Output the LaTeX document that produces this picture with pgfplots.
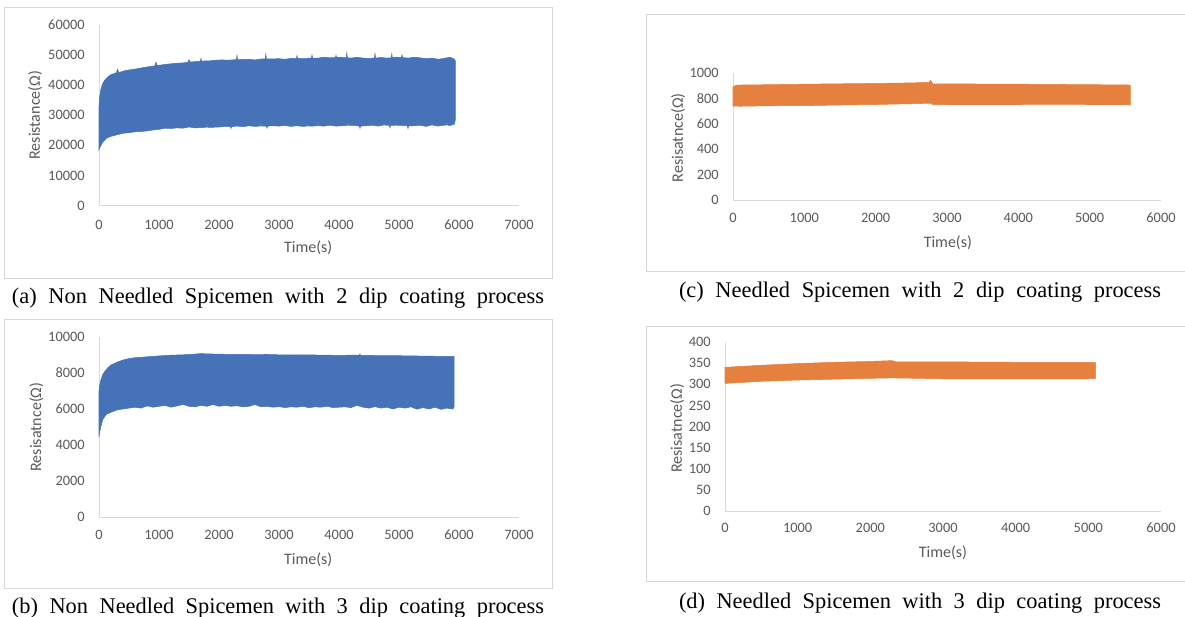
\documentclass[border=0pt]{standalone}
\usepackage{pgfplots}
\pgfplotsset{compat=1.18}
\usepackage{fontspec}
\setmainfont{Liberation Serif}
\newfontfamily\calibri{Carlito}
\definecolor{xlblue}{HTML}{4672B8}
\definecolor{xlorange}{HTML}{E6803F}
\definecolor{ticktxt}{HTML}{595959}
\definecolor{axgray}{HTML}{D9D9D9}
\definecolor{framegray}{HTML}{D6D6D6}
\pgfplotsset{
  xlchart/.style={
    scale only axis,
    axis x line*=bottom, axis y line*=left,
    axis line style={draw=axgray, line width=0.75pt},
    major tick length=0pt,
    tick style={draw=none},
    ticklabel style={font=\calibri\fontsize{10.8}{12}\selectfont, text=ticktxt, inner sep=0pt},
    /pgf/number format/1000 sep={},
    /pgf/number format/assume math mode=true,
    scaled ticks=false,
    yticklabel style={anchor=east, xshift=-10.5pt},
    every axis y label/.style={rotate=90, anchor=center, font=\calibri\fontsize{12}{14}\selectfont, text=ticktxt},
    every axis x label/.style={anchor=center, font=\calibri\fontsize{12}{14}\selectfont, text=ticktxt},
    clip=false,
  }
}
\newcommand\capt[2]{\fontsize{16.8}{20}\selectfont\makebox[#1][s]{#2}}
\begin{document}
\begin{tikzpicture}
\useasboundingbox (0,0) rectangle (888.75pt,-462.75pt);
\clip (0,0) rectangle (888.75pt,-462.75pt);
% frames
\draw[framegray, line width=0.75pt] (3pt,-6pt) rectangle (414pt,-208.5pt);
\draw[framegray, line width=0.75pt] (3pt,-239.25pt) rectangle (414pt,-441pt);
\draw[framegray, line width=0.75pt] (484.5pt,-11.25pt) rectangle (892.5pt,-203.25pt);
\draw[framegray, line width=0.75pt] (484.5pt,-244.5pt) rectangle (892.5pt,-435.75pt);
% captions
\node[anchor=center, inner sep=0pt] at (208.5pt,-223.5pt) {\capt{399pt}{(a) Non Needled Spicemen with 2 dip coating process}};
\node[anchor=center, inner sep=0pt] at (208.5pt,-456pt) {\capt{399pt}{(b) Non Needled Spicemen with 3 dip coating process}};
\node[anchor=center, inner sep=0pt] at (690pt,-219pt) {\capt{361.5pt}{(c) Needled Spicemen with 2 dip coating process}};
\node[anchor=center, inner sep=0pt] at (690pt,-452.25pt) {\capt{361.5pt}{(d) Needled Spicemen with 3 dip coating process}};

% (a)
\begin{axis}[xlchart, at={(74.25pt,-154.125pt)}, anchor=origin,
  width=315pt, height=135.375pt,
  xmin=0, xmax=7000, ymin=0, ymax=60000,
  xtick={0,1000,...,7000}, ytick={0,10000,...,60000},
  xticklabel style={anchor=center, yshift=-14.3pt},
  xlabel={Time(s)}, ylabel={Resistance(Ω)},
  xlabel style={at={(axis description cs:0.498,-0.235)}},
  ylabel style={at={(axis description cs:-0.152,0.5)}},
  ]
\addplot[fill=xlblue, draw=xlblue, line width=0.4pt] coordinates {
(0,33000)(10,36000)(30,38500)(60,40500)(100,41800)(150,42800)(200,43500)(290,44100)(310,45300)(330,44200)
(450,44900)(550,45200)(650,45500)(750,45900)(850,46200)(930,46400)(950,47600)(970,46500)(1100,46900)(1200,47100)
(1300,47300)(1400,47400)(1480,47600)(1500,48500)(1520,47700)(1650,47900)(1690,48000)(1700,48900)(1710,48000)(1850,48100)
(1950,48300)(2050,48400)(2150,48300)(2290,48500)(2300,49900)(2310,48500)(2500,48600)(2600,48400)(2700,48700)(2770,48700)
(2780,50300)(2790,48700)(3000,48800)(3100,48600)(3200,48900)(3290,48900)(3300,49800)(3310,48900)(3400,48800)(3500,49000)
(3540,49000)(3550,50000)(3560,49000)(3650,49000)(3750,49300)(3850,49100)(3940,49200)(3950,49900)(3960,49200)(4050,49200)
(4120,49100)(4130,50700)(4140,49100)(4200,49000)(4300,49300)(4400,49000)(4500,48900)(4590,49000)(4600,50500)(4610,49000)
(4700,49200)(4800,49000)(4870,49100)(4880,50400)(4890,49100)(4950,49300)(5040,49200)(5050,50100)(5060,49200)(5150,49000)
(5250,49300)(5350,49100)(5450,48800)(5550,49000)(5650,48600)(5750,48900)(5850,49300)(5920,48700)(5940,48000)
(5940,28500)(5920,27000)(5850,26600)(5810,26700)(5800,27900)(5790,26700)(5750,26700)(5650,26400)(5550,26800)(5450,26300)
(5350,26700)(5250,26500)(5160,26500)(5150,25600)(5140,26500)(5050,26600)(4950,26700)(4860,26600)(4850,25800)(4840,26600)
(4750,26800)(4650,26400)(4550,26700)(4450,26500)(4360,26400)(4350,25700)(4340,26400)(4250,26600)(4160,26600)(4150,27600)
(4140,26600)(4050,26500)(3950,26400)(3850,26700)(3750,26400)(3660,26500)(3650,27800)(3640,26500)(3550,26400)(3490,26400)
(3480,28000)(3470,26400)(3400,26300)(3300,26500)(3200,26300)(3100,26600)(3000,26400)(2900,26500)(2810,26400)(2800,25700)
(2790,26400)(2710,26400)(2700,27500)(2690,26400)(2600,26300)(2500,26500)(2400,26200)(2300,26400)(2210,26200)(2200,25600)
(2190,26200)(2100,26300)(2000,26100)(1900,26000)(1810,26000)(1800,27100)(1790,26000)(1700,25900)(1600,25800)(1500,26100)
(1400,25700)(1300,25800)(1200,25600)(1100,25700)(1000,25300)(900,25100)(800,24800)(700,24600)(600,24500)(500,24200)
(400,24000)(300,23500)(200,23000)(120,22300)(60,21000)(20,19500)(0,18500)
} -- cycle;
\end{axis}

% (b)
\begin{axis}[xlchart, at={(74.25pt,-387.75pt)}, anchor=origin,
  width=315pt, height=135pt,
  xmin=0, xmax=7000, ymin=0, ymax=10000,
  xtick={0,1000,...,7000}, ytick={0,2000,...,10000},
  xticklabel style={anchor=center, yshift=-13.5pt},
  xlabel={Time(s)}, ylabel={Resisatnce(Ω)},
  xlabel style={at={(axis description cs:0.498,-0.239)}},
  ylabel style={at={(axis description cs:-0.149,0.5)}},
  ]
\addplot[fill=xlblue, draw=xlblue, line width=0.4pt] coordinates {
(0,7000)(10,7300)(30,7600)(60,7900)(100,8100)(150,8300)(200,8450)(300,8600)(400,8720)(500,8800)
(600,8850)(700,8870)(800,8900)(900,8920)(1000,8950)(1200,8990)(1400,9010)(1600,9050)(1700,9080)(1800,9060)
(2000,9050)(2200,9030)(2400,9040)(2600,9020)(2800,9030)(3000,9010)(3200,9000)(3400,9010)(3600,9000)(3800,8990)
(4000,8980)(4200,8990)(4340,8990)(4350,9060)(4360,8980)(4600,8970)(4800,8960)(5000,8960)(5200,8950)(5400,8940)(5600,8930)
(5800,8920)(5920,8920)
(5920,6150)(5900,6000)(5800,6050)(5700,5980)(5600,6100)(5500,6000)(5400,6080)(5300,5990)(5200,6120)(5100,6050)
(5000,6100)(4900,6000)(4800,6100)(4700,6050)(4600,6130)(4500,6050)(4400,6100)(4300,6200)(4200,6080)(4100,6120)
(4000,6100)(3900,6080)(3800,6150)(3700,6100)(3600,6120)(3500,6070)(3400,6150)(3300,6100)(3200,6120)(3100,6080)
(3000,6130)(2900,6100)(2800,6150)(2700,6120)(2600,6250)(2500,6150)(2400,6120)(2300,6180)(2200,6150)(2100,6200)
(2000,6150)(1900,6250)(1800,6150)(1700,6200)(1600,6120)(1500,6150)(1400,6250)(1300,6170)(1200,6100)(1100,6200)
(1000,6150)(900,6100)(800,6170)(700,6050)(600,6100)(500,6050)(400,6000)(300,5950)(200,5820)(120,5700)
(60,5400)(30,5000)(10,4700)(0,4450)
} -- cycle;
\end{axis}

% (c)
\begin{axis}[xlchart, at={(549.75pt,-150pt)}, anchor=origin,
  width=321pt, height=95.25pt,
  xmin=0, xmax=6000, ymin=0, ymax=1000,
  xtick={0,1000,...,6000}, ytick={0,200,...,1000},
  xticklabel style={anchor=center, yshift=-13.5pt},
  xlabel={Time(s)}, ylabel={Resisatnce(Ω)},
  xlabel style={at={(axis description cs:0.502,-0.339)}},
  ylabel style={at={(axis description cs:-0.1285,0.49)}},
  ]
\addplot[fill=xlorange, draw=xlorange, line width=0.4pt] coordinates {
(0,890)(50,905)(500,908)(1000,912)(1500,915)(2000,918)(2500,922)(2750,926)(2770,942)(2790,925)
(2800,915)(3500,913)(4000,912)(4500,910)(5000,908)(5500,906)(5570,905)
(5570,748)(5500,752)(5000,752)(4500,753)(4000,752)(3500,752)(3000,752)(2800,750)(2780,762)(2500,758)
(2000,752)(1500,748)(1000,743)(500,742)(100,738)(0,740)
} -- cycle;
\end{axis}

% (d)
\begin{axis}[xlchart, at={(543.75pt,-383.25pt)}, anchor=origin,
  width=327pt, height=126.75pt,
  xmin=0, xmax=6000, ymin=0, ymax=400,
  xtick={0,1000,...,6000}, ytick={0,50,...,400},
  xticklabel style={anchor=center, yshift=-12.75pt},
  xlabel={Time(s)}, ylabel={Resisatnce(Ω)},
  xlabel style={at={(axis description cs:0.5,-0.249)}},
  ylabel style={at={(axis description cs:-0.110,0.49)}},
  ]
\addplot[fill=xlorange, draw=xlorange, line width=0.4pt] coordinates {
(0,340)(200,342)(500,345)(1000,349)(1500,352)(2000,354)(2300,356)(2350,353)(3000,353)(4000,352)(5000,352)(5100,351)
(5100,314)(5000,313)(4000,313)(3000,313)(2300,315)(2000,314)(1500,312)(1000,310)(500,307)(200,304)(0,302)
} -- cycle;
\end{axis}
\end{tikzpicture}
\end{document}
